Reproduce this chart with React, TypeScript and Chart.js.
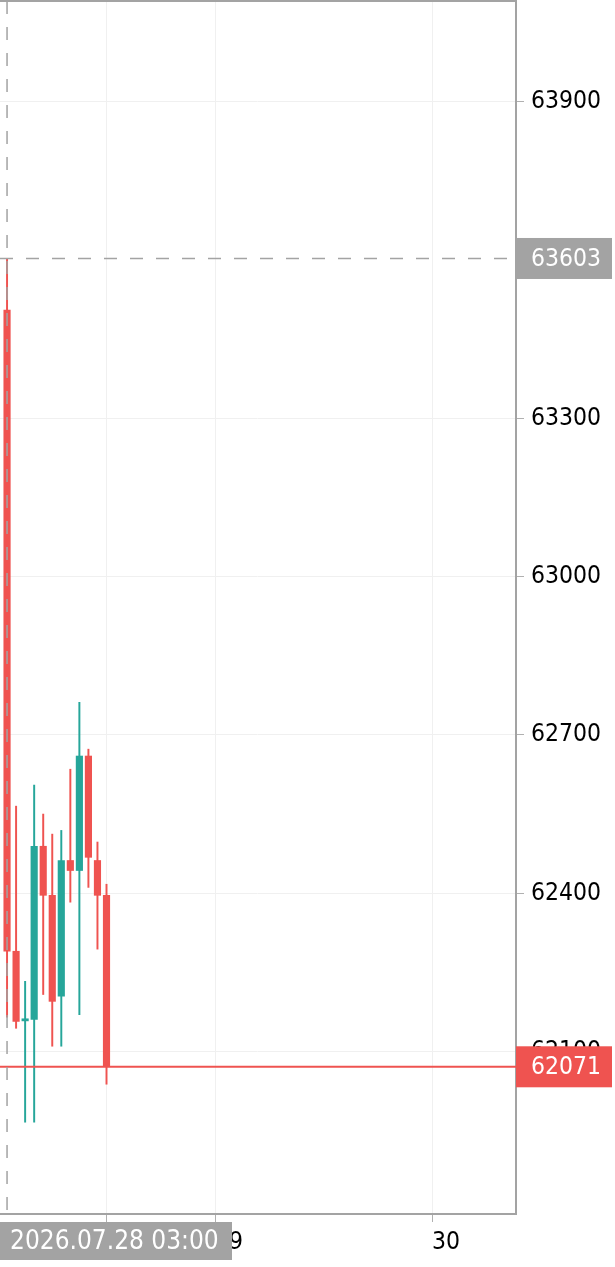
import React, { useEffect, useRef } from 'react';
import { Chart, registerables } from 'chart.js';

Chart.register(...registerables);

// ---- data (hourly candles, hour offset from 28 Jul 00:00 on the axis timeline) ----
const hours = [1, 2, 3, 4, 5, 6, 7, 8, 9, 10, 11, 12];
const opens = [63505, 62290, 62158, 62161, 62489, 62396, 62205, 62462, 62443, 62660, 62462, 62396];
const highs = [63603, 62565, 62233, 62605, 62550, 62512, 62519, 62635, 62762, 62673, 62497, 62417];
const lows = [62165, 62144, 61966, 61966, 62208, 62110, 62110, 62383, 62170, 62411, 62294, 62038];
const closes = [62290, 62157, 62162, 62489, 62396, 62195, 62462, 62443, 62660, 62468, 62396, 62071];

const yTickValues = [62100, 62400, 62700, 63000, 63300, 63900];
const xTickValues = [12, 24, 48];
const xTickLabels = ['12:00', '29', '30'];

const lastPrice = 62071;
const crossPrice = 63603;
const crossHour = 1;
const crossTimeLabel = '2026.07.28 03:00';

const X_MIN = 0.221;
const X_MAX = 57.29;
const Y_MIN = 61792;
const Y_MAX = 64091;

const RED = '#ef5350';
const GREEN = '#26a69a';
const GRAY = '#a3a3a3';
const FONT = 'DejaVu Sans Condensed';

const colorFor = (i: number) => (closes[i] >= opens[i] ? GREEN : RED);

const overlayPlugin = {
  id: 'overlay',
  afterDatasetsDraw(chart: any) {
    const { ctx, chartArea: a, scales } = chart;
    const x = scales.x;
    const y = scales.y;
    ctx.save();
    ctx.beginPath();
    ctx.rect(a.left, a.top, a.right - a.left, a.bottom - a.top);
    ctx.clip();
    // last price line
    const py = y.getPixelForValue(lastPrice);
    ctx.strokeStyle = RED;
    ctx.lineWidth = 2;
    ctx.beginPath();
    ctx.moveTo(a.left, py);
    ctx.lineTo(a.right, py);
    ctx.stroke();
    // crosshair
    ctx.strokeStyle = GRAY;
    ctx.lineWidth = 1.5;
    ctx.setLineDash([13, 13]);
    const cy = y.getPixelForValue(crossPrice);
    const cx = x.getPixelForValue(crossHour);
    ctx.beginPath();
    ctx.moveTo(a.left, cy);
    ctx.lineTo(a.right, cy);
    ctx.stroke();
    ctx.beginPath();
    ctx.moveTo(cx, a.top);
    ctx.lineTo(cx, a.bottom);
    ctx.stroke();
    ctx.restore();
  },
  afterDraw(chart: any) {
    const { ctx, chartArea: a, scales } = chart;
    const y = scales.y;
    ctx.save();
    // top border
    ctx.strokeStyle = GRAY;
    ctx.lineWidth = 2;
    ctx.beginPath();
    ctx.moveTo(0, a.top);
    ctx.lineTo(a.right + 1, a.top);
    ctx.stroke();

    const tagH = 41;
    const drawYTag = (val: number, bg: string) => {
      const p = y.getPixelForValue(val);
      ctx.fillStyle = bg;
      ctx.fillRect(a.right, p - tagH / 2, 96, tagH);
      ctx.fillStyle = '#ffffff';
      ctx.font = `24.5px "${FONT}"`;
      ctx.textAlign = 'left';
      ctx.textBaseline = 'middle';
      ctx.fillText(String(val), a.right + 15, p + 1);
    };
    drawYTag(crossPrice, GRAY);
    drawYTag(lastPrice, RED);

    // time tag
    const top = a.bottom + 8;
    ctx.fillStyle = GRAY;
    ctx.fillRect(0, top, 232, 38);
    ctx.fillStyle = '#ffffff';
    ctx.font = `26px "${FONT}"`;
    ctx.textAlign = 'left';
    ctx.textBaseline = 'middle';
    ctx.fillText(crossTimeLabel, 10, top + 20);
    ctx.restore();
  },
};

export default function App() {
  const ref = useRef<HTMLCanvasElement>(null);
  useEffect(() => {
    document.body.style.margin = '0';
    const chart = new Chart(ref.current as HTMLCanvasElement, {
      type: 'bar',
      data: {
        datasets: [
          {
            label: 'body',
            data: hours.map((h, i) => ({ x: h, y: [opens[i], closes[i]] })) as any,
            backgroundColor: hours.map((_, i) => colorFor(i)),
            barThickness: 6.5,
            grouped: false,
            borderWidth: 0,
            clip: 0,
          } as any,
          {
            label: 'wick',
            data: hours.map((h, i) => ({ x: h, y: [lows[i], highs[i]] })) as any,
            backgroundColor: hours.map((_, i) => colorFor(i)),
            barThickness: 1.3,
            grouped: false,
            borderWidth: 0,
            clip: 0,
          } as any,
        ],
      },
      options: {
        responsive: false,
        animation: false,
        events: [],
        layout: { padding: { top: 1, left: 0, right: 0, bottom: 0 } },
        plugins: { legend: { display: false }, tooltip: { enabled: false } },
        scales: {
          x: {
            type: 'linear',
            min: X_MIN,
            max: X_MAX,
            offset: false,
            afterBuildTicks: (s: any) => {
              s.ticks = xTickValues.map((v) => ({ value: v }));
            },
            afterFit: (s: any) => {
              s.height = 53;
              s.paddingLeft = 0;
              s.paddingRight = 0;
              s.paddingTop = 0;
              s.paddingBottom = 0;
            },
            ticks: {
              callback: (v: any) => xTickLabels[xTickValues.indexOf(Number(v))],
              align: 'start',
              maxRotation: 0,
              autoSkip: false,
              font: { family: FONT, size: 24.5 },
              color: '#000000',
              padding: 6,
            },
            grid: { color: '#f0f0f0', tickColor: '#b0b0b0', tickLength: 8, offset: false, lineWidth: 1 },
            border: { display: true, color: GRAY, width: 2 },
          } as any,
          y: {
            type: 'linear',
            position: 'right',
            min: Y_MIN,
            max: Y_MAX,
            afterBuildTicks: (s: any) => {
              s.ticks = yTickValues.map((v) => ({ value: v }));
            },
            afterFit: (s: any) => {
              s.width = 99;
              s.paddingLeft = 0;
              s.paddingRight = 0;
              s.paddingTop = 0;
              s.paddingBottom = 0;
            },
            ticks: {
              callback: (v: any) => String(v),
              font: { family: FONT, size: 24.5 },
              color: '#000000',
              padding: 7,
            },
            grid: { color: '#f0f0f0', tickColor: '#b0b0b0', tickLength: 8, lineWidth: 1 },
            border: { display: true, color: GRAY, width: 2 },
          } as any,
        },
      },
      plugins: [overlayPlugin],
    });
    return () => chart.destroy();
  }, []);
  return (
    <div style={{ position: 'absolute', left: 0, top: 0, width: 615, height: 1267 }}>
      <canvas ref={ref} width={615} height={1267} />
    </div>
  );
}
